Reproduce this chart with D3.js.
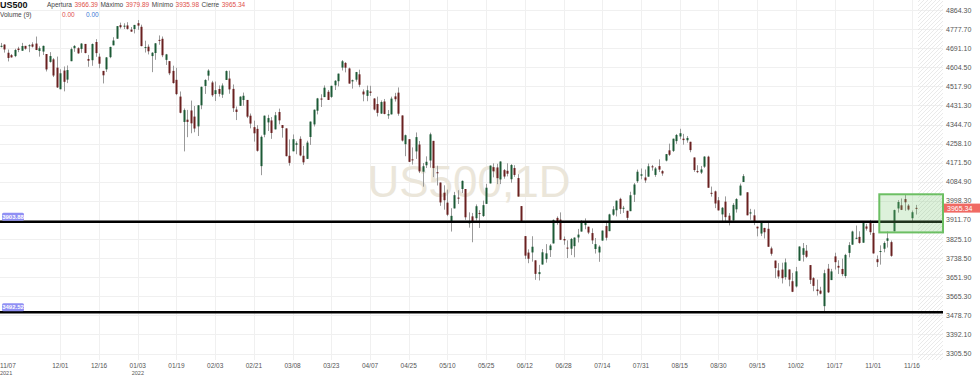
<!DOCTYPE html>
<html>
<head>
<meta charset="utf-8">
<script src="https://cdn.jsdelivr.net/npm/d3@7"></script>
<style>
  body { margin: 0; background: #fff; }
  svg { display: block; font-family: "Liberation Sans", Arial, sans-serif; }
</style>
</head>
<body>
<div id="chart"></div>
<script>
// daily bars, US500, 2021-11-08 .. 2022-11-18
var opens = [
4701.5,4707.3,4670.3,4659.4,4655.2,4689.3,4679.4,4701.5,4700.7,4708.4,4712.0,4678.5,4675.8,4664.6,4628.8,4640.3,4602.8,4504.7,4589.5,4548.4,
4632.0,4690.9,4691.0,4687.6,4710.3,4642.0,4636.5,4719.1,4652.5,4587.9,4595.0,4650.4,4704.0,4734.0,4795.5,4788.6,4794.2,4775.2,4778.1,4804.5,
4788.0,4693.4,4697.7,4655.3,4669.1,4728.6,4733.6,4638.0,4632.2,4588.0,4547.4,4471.4,4356.3,4366.6,4408.4,4380.6,4336.2,4431.8,4519.6,4566.4,
4535.4,4482.8,4505.8,4480.0,4547.0,4553.2,4506.3,4412.6,4429.3,4455.8,4456.1,4384.6,4332.7,4324.9,4155.8,4298.4,4354.2,4363.1,4322.6,4401.3,
4342.1,4327.0,4202.7,4223.1,4252.6,4279.5,4202.8,4188.8,4288.1,4345.1,4407.3,4462.4,4469.1,4493.1,4470.0,4522.7,4541.1,4602.9,4624.2,4599.0,
4540.3,4548.0,4572.5,4494.2,4474.7,4494.2,4462.6,4437.6,4394.3,4449.1,4385.6,4390.6,4472.3,4489.2,4385.8,4255.3,4278.1,4186.5,4222.6,4253.8,
4130.6,4159.8,4181.2,4270.4,4128.2,4081.3,4035.2,3990.1,3904.0,3963.9,4013.0,4052.0,4052.0,3899.0,3927.8,3919.4,3942.9,3929.6,3984.6,4077.4,
4151.1,4149.8,4095.4,4137.6,4134.7,4096.5,4147.1,4101.7,3974.4,3838.2,3763.5,3764.1,3728.2,3665.9,3709.3,3733.9,3774.7,3805.0,3920.8,3913.0,
3825.1,3786.0,3781.0,3792.6,3832.0,3858.9,3888.3,3880.9,3852.0,3779.7,3764.0,3818.0,3883.8,3860.7,3935.3,3955.5,4007.2,3965.7,3953.2,3951.4,
4026.1,4087.3,4112.4,4104.2,4108.0,4154.9,4115.9,4155.9,4133.1,4181.0,4227.4,4225.0,4269.4,4290.5,4280.4,4273.1,4266.3,4195.1,4133.1,4126.6,
4153.3,4198.7,4034.6,4041.3,4000.7,3936.7,3994.7,3930.9,3909.4,3959.9,4022.9,4083.7,4037.1,3940.7,3932.4,3881.0,3849.9,3875.2,3871.4,3782.4,
3727.1,3682.7,3686.4,3651.9,3687.0,3633.5,3609.8,3726.5,3753.3,3772.0,3706.7,3647.5,3595.9,3590.8,3520.4,3690.4,3638.7,3746.3,3703.1,3689.1,
3657.1,3762.0,3799.4,3826.0,3834.7,3808.3,3881.9,3901.8,3852.9,3733.3,3767.0,3780.7,3817.0,3810.9,3859.9,3963.7,3978.0,4006.4,3976.8,3919.3,
3966.4
];
var highs = [
4714.9,4708.5,4684.9,4664.6,4688.5,4697.4,4715.0,4701.5,4708.8,4717.8,4743.8,4699.4,4702.9,4664.6,4673.0,4646.0,4652.9,4595.5,4608.0,4612.6,
4694.0,4705.1,4695.3,4713.6,4710.3,4660.5,4712.6,4732.0,4666.7,4587.9,4651.1,4697.7,4740.7,4791.5,4807.0,4804.1,4808.9,4787.0,4796.6,4818.6,
4797.7,4725.0,4708.0,4673.0,4714.1,4748.8,4744.1,4665.1,4632.2,4611.6,4602.1,4494.5,4417.4,4411.0,4453.2,4428.7,4432.7,4516.9,4550.5,4595.3,
4542.9,4539.7,4521.9,4531.3,4590.0,4588.9,4526.3,4426.2,4472.8,4489.6,4456.1,4394.6,4362.1,4341.5,4294.7,4385.3,4388.8,4378.5,4401.5,4416.8,
4342.1,4327.0,4276.9,4299.4,4268.3,4291.0,4247.6,4271.1,4358.0,4412.7,4465.4,4481.8,4522.0,4501.1,4520.6,4546.0,4575.7,4637.3,4627.8,4603.1,
4548.7,4583.5,4593.5,4503.9,4521.2,4520.4,4464.4,4471.0,4453.9,4460.5,4410.3,4471.0,4488.3,4512.9,4385.8,4299.0,4278.1,4240.7,4308.5,4269.7,
4169.8,4200.1,4307.7,4270.4,4157.7,4081.3,4068.8,4049.1,3964.8,4038.9,4046.5,4090.7,4052.0,3946.0,3943.4,3981.9,3955.7,3999.3,4075.1,4158.5,
4168.3,4166.5,4177.5,4142.7,4168.8,4164.9,4160.1,4119.1,3974.4,3838.2,3778.2,3837.6,3728.2,3707.7,3779.7,3801.8,3802.6,3913.7,3927.7,3945.9,
3836.5,3819.0,3829.8,3832.2,3870.9,3910.6,3918.5,3880.9,3873.4,3829.4,3796.4,3863.6,3902.4,3939.8,3974.1,3999.3,4012.4,3975.3,3953.2,4039.6,
4079.0,4140.2,4145.0,4140.5,4167.7,4161.3,4151.6,4186.6,4137.3,4211.0,4257.9,4280.5,4301.8,4325.3,4302.2,4292.5,4266.3,4195.1,4159.8,4156.6,
4200.5,4203.0,4063.0,4045.0,4015.4,3970.2,4018.4,3942.6,3987.9,4010.5,4076.8,4119.3,4037.1,3961.9,3959.1,3881.0,3900.5,3876.0,3907.1,3790.4,
3727.1,3715.7,3717.5,3736.7,3687.0,3671.4,3698.4,3791.9,3806.9,3798.0,3706.7,3652.2,3640.7,3608.3,3685.4,3712.0,3689.7,3762.8,3728.6,3736.0,
3757.9,3810.7,3862.8,3886.2,3860.0,3905.4,3893.7,3911.8,3894.4,3750.6,3796.3,3814.0,3859.4,3818.2,3958.3,4001.5,4009.0,4028.8,3983.4,3954.3,
3979.9
];
var lows = [
4694.4,4670.9,4630.9,4648.3,4650.4,4672.9,4679.4,4684.4,4672.8,4694.2,4682.2,4652.7,4659.9,4585.4,4625.3,4560.0,4510.3,4504.7,4495.1,4532.5,
4632.0,4674.5,4666.0,4670.2,4667.6,4606.5,4611.2,4651.9,4600.2,4531.1,4583.2,4645.5,4704.0,4734.0,4780.0,4778.1,4775.3,4765.6,4758.2,4774.3,
4699.4,4671.3,4662.7,4582.2,4638.3,4706.7,4650.3,4614.8,4568.7,4530.2,4478.0,4395.3,4222.6,4287.1,4304.8,4309.5,4292.5,4414.0,4483.5,4544.3,
4470.4,4451.5,4471.5,4465.4,4547.0,4484.3,4401.4,4364.8,4429.3,4429.7,4373.8,4327.2,4267.1,4221.5,4114.7,4286.8,4315.1,4279.5,4322.6,4345.6,
4285.0,4199.9,4157.9,4223.1,4209.8,4200.5,4161.7,4187.9,4252.0,4335.7,4390.6,4424.3,4469.1,4455.8,4465.2,4501.1,4517.7,4589.7,4581.3,4530.4,
4507.6,4539.2,4514.2,4450.0,4450.3,4474.6,4408.4,4381.3,4392.7,4390.8,4370.3,4390.6,4448.8,4384.5,4267.6,4200.8,4175.0,4162.9,4188.6,4124.3,
4062.5,4147.1,4148.9,4106.0,4067.9,3975.5,3958.2,3928.8,3858.9,3963.9,3984.0,4033.9,3911.9,3876.6,3810.3,3909.0,3875.1,3925.0,3984.6,4077.4,
4104.9,4074.0,4074.4,4098.7,4109.2,4080.2,4107.2,4017.2,3900.2,3734.3,3715.3,3722.3,3639.8,3636.9,3709.3,3717.7,3743.5,3805.0,3889.7,3820.1,
3799.0,3738.7,3752.1,3742.1,3809.4,3858.9,3869.3,3847.2,3802.4,3759.1,3721.6,3817.2,3818.6,3860.7,3930.4,3927.6,3938.8,3943.5,3910.7,3951.4,
3993.0,4079.2,4096.0,4079.8,4108.0,4135.4,4107.3,4129.0,4112.1,4177.3,4201.4,4219.8,4256.9,4277.8,4253.1,4262.0,4218.7,4129.9,4124.0,4120.0,
4147.6,4057.7,4017.4,3965.2,3954.5,3903.7,3906.2,3886.8,3906.0,3944.8,4022.9,4083.7,3932.4,3912.2,3888.3,3837.1,3838.5,3827.5,3789.5,3749.4,
3647.5,3644.8,3623.3,3640.6,3610.4,3584.1,3604.9,3726.5,3722.7,3739.2,3620.7,3588.1,3568.5,3573.9,3491.6,3579.7,3638.7,3686.5,3666.5,3656.4,
3647.4,3741.6,3799.4,3824.1,3803.8,3808.3,3863.2,3843.8,3758.7,3698.2,3708.8,3764.7,3786.3,3744.2,3859.9,3944.8,3956.4,3953.2,3954.3,3906.5,
3936.0
];
var closes = [
4701.7,4685.3,4646.7,4649.3,4682.9,4682.8,4700.9,4688.7,4704.5,4698.0,4682.9,4690.7,4701.5,4594.6,4655.3,4567.0,4513.0,4577.1,4538.4,4591.7,
4686.8,4701.2,4667.5,4712.0,4669.0,4634.1,4709.9,4668.7,4620.6,4568.0,4649.2,4696.6,4725.8,4791.2,4786.4,4793.1,4778.7,4766.2,4796.6,4793.5,
4700.6,4696.1,4677.0,4670.3,4713.1,4726.4,4659.0,4662.9,4577.1,4532.8,4482.7,4397.9,4410.1,4356.5,4349.9,4326.5,4431.9,4515.6,4546.5,4589.4,
4477.4,4500.5,4483.9,4521.5,4587.2,4504.1,4418.6,4401.7,4471.1,4475.0,4380.3,4348.9,4304.8,4225.5,4288.7,4384.7,4373.9,4306.3,4386.5,4363.5,
4328.9,4201.1,4170.7,4277.9,4259.5,4204.3,4173.1,4262.5,4357.9,4411.7,4463.1,4461.2,4511.6,4456.2,4520.2,4543.1,4575.5,4631.6,4602.5,4530.4,
4545.9,4582.6,4525.1,4481.2,4500.2,4488.3,4412.5,4397.5,4446.6,4392.6,4391.7,4462.2,4459.5,4393.7,4271.8,4296.1,4175.2,4184.0,4287.5,4131.9,
4155.4,4175.5,4300.2,4146.9,4123.3,3991.2,4001.1,3935.2,3930.1,4023.9,4008.0,4088.9,3923.7,3900.8,3901.4,3973.8,3941.5,3978.7,4057.8,4158.2,
4132.2,4101.2,4176.8,4108.5,4121.4,4160.7,4115.8,4017.8,3900.9,3749.6,3735.5,3790.0,3666.8,3674.8,3764.8,3759.9,3795.7,3911.7,3900.1,3821.6,
3818.8,3785.4,3825.3,3831.4,3845.1,3902.6,3899.4,3854.4,3818.8,3801.8,3790.4,3863.2,3830.9,3936.7,3959.9,3999.0,3961.6,3966.8,3921.1,4023.6,
4072.4,4130.3,4118.6,4091.2,4155.2,4151.9,4145.2,4140.1,4122.5,4210.2,4207.3,4280.2,4297.1,4305.2,4274.0,4283.7,4228.5,4138.0,4128.7,4140.8,
4199.1,4057.7,4030.6,3986.2,3955.0,3966.9,3924.3,3908.2,3979.9,4006.2,4067.4,4110.4,3932.7,3946.0,3901.4,3873.3,3899.9,3855.9,3789.9,3758.0,
3693.2,3655.0,3647.3,3719.0,3640.5,3585.6,3678.4,3790.9,3783.3,3744.5,3639.7,3612.4,3588.8,3577.0,3669.9,3583.1,3678.0,3720.0,3695.2,3665.8,
3752.8,3797.3,3859.1,3830.6,3807.3,3901.1,3872.0,3856.1,3759.7,3719.9,3770.6,3806.8,3828.1,3748.6,3956.4,3992.9,3957.3,3991.7,3958.8,3946.6,
3965.3
];

// price axis and date axis labels
var priceTicks = [4864.3, 4777.7, 4691.1, 4604.5, 4517.9, 4431.3, 4344.7, 4258.1, 4171.5, 4084.9,
                  3998.3, 3911.7, 3825.1, 3738.5, 3651.9, 3565.3, 3478.7, 3392.1, 3305.5];
var dateLabels = ["11/07", "12/01", "12/16", "01/03", "01/19", "02/03", "02/21", "03/08", "03/23", "04/07",
                  "04/25", "05/10", "05/25", "06/12", "06/28", "07/14", "07/31", "08/15", "08/30", "09/15",
                  "10/02", "10/17", "11/01", "11/16"];
var dateIndex = [0, 17, 28, 39, 50, 61, 72, 83, 94, 105, 116, 127, 138, 149, 160, 171, 182, 193, 204, 215, 226, 237, 248, 259];
var yearLabels = {0: "2021", 39: "2022"};

// drawn levels and zone
var levels = [3903.88, 3492.52];
var zone = {from: 250, top: 4028, bottom: 3855};
var lastBar = {open: 3966.39, high: 3979.89, low: 3935.98, close: 3965.34};

var W = 980, H = 379;
var plotRight = 943, plotBottom = 360;

var svg = d3.select("#chart").append("svg")
    .attr("width", W)
    .attr("height", H);

var x = d3.scaleLinear().domain([0, 260]).range([0.5, 915.5]);
var y = d3.scaleLinear().domain([3305.5, 4864.3]).range([353.5, 10]);

// hatch pattern for the empty future area
var defs = svg.append("defs");
var pat = defs.append("pattern")
    .attr("id", "hatch")
    .attr("patternUnits", "userSpaceOnUse")
    .attr("width", 4).attr("height", 4);
pat.append("path")
    .attr("d", "M-1,1 l2,-2 M0,4 l4,-4 M3,5 l2,-2")
    .attr("stroke", "#e4e4e4").attr("stroke-width", 0.8);

// grid
svg.append("g").selectAll("line")
    .data(priceTicks)
    .enter().append("line")
    .attr("x1", 0).attr("x2", plotRight)
    .attr("y1", function(d) { return Math.round(y(d)) + 0.5; })
    .attr("y2", function(d) { return Math.round(y(d)) + 0.5; })
    .attr("stroke", "#f0f0f0");

svg.append("g").selectAll("line")
    .data(dateIndex.slice(1))
    .enter().append("line")
    .attr("x1", function(d) { return Math.round(x(d)) + 0.5; })
    .attr("x2", function(d) { return Math.round(x(d)) + 0.5; })
    .attr("y1", 0).attr("y2", plotBottom)
    .attr("stroke", "#f0f0f0");

svg.append("rect")
    .attr("x", x(260) + 2.5).attr("y", 0)
    .attr("width", plotRight - x(260) - 2.5).attr("height", plotBottom)
    .attr("fill", "url(#hatch)");

// watermark
svg.append("text")
    .attr("x", 469).attr("y", 197)
    .attr("text-anchor", "middle")
    .attr("font-size", 44)
    .attr("fill", "#ebe6da")
    .text("US500,1D");

// candles
var bars = d3.range(opens.length).map(function(i) {
    return {i: i, o: opens[i], h: highs[i], l: lows[i], c: closes[i]};
});

var candle = svg.append("g").selectAll("g")
    .data(bars)
    .enter().append("g");

candle.append("line")
    .attr("x1", function(d) { return Math.round(x(d.i)) + 0.5; })
    .attr("x2", function(d) { return Math.round(x(d.i)) + 0.5; })
    .attr("y1", function(d) { return y(d.h); })
    .attr("y2", function(d) { return y(d.l); })
    .attr("stroke", "#9a9a9a");

candle.append("rect")
    .attr("x", function(d) { return Math.round(x(d.i)) - 0.5; })
    .attr("width", 2)
    .attr("y", function(d) { return y(Math.max(d.o, d.c)); })
    .attr("height", function(d) { return Math.max(1, Math.abs(y(d.o) - y(d.c))); })
    .attr("fill", function(d) { return d.c >= d.o ? "#1c5a36" : "#6a2020"; });

// horizontal levels
svg.append("g").selectAll("line")
    .data(levels)
    .enter().append("line")
    .attr("x1", 0).attr("x2", plotRight)
    .attr("y1", function(d) { return y(d); })
    .attr("y2", function(d) { return y(d); })
    .attr("stroke", "#000").attr("stroke-width", 2.5);

var lvl = svg.append("g").selectAll("g")
    .data(levels)
    .enter().append("g")
    .attr("transform", function(d) { return "translate(2," + (y(d) - 9) + ")"; });
lvl.append("rect")
    .attr("width", 22).attr("height", 8).attr("rx", 1.5)
    .attr("fill", "#9090f4");
lvl.append("text")
    .attr("x", 11).attr("y", 6.2)
    .attr("text-anchor", "middle")
    .attr("font-size", 6).attr("font-weight", "bold")
    .attr("fill", "#fff")
    .text(function(d) { return d.toFixed(2); });

// zone rectangle
svg.append("rect")
    .attr("x", x(zone.from) - 1).attr("y", y(zone.top))
    .attr("width", plotRight - x(zone.from) + 1)
    .attr("height", y(zone.bottom) - y(zone.top))
    .attr("fill", "rgba(120,200,110,0.25)")
    .attr("stroke", "#6cbf63").attr("stroke-width", 2);

// price axis
svg.append("g").selectAll("text")
    .data(priceTicks)
    .enter().append("text")
    .attr("x", 946).attr("y", function(d) { return y(d) + 2.5; })
    .attr("font-size", 7).attr("fill", "#555")
    .text(function(d) { return d.toFixed(2); });

var tag = svg.append("g").attr("transform", "translate(944," + (y(lastBar.close) - 4.5) + ")");
tag.append("rect").attr("width", 36).attr("height", 9).attr("fill", "#f06a64");
tag.append("text").attr("x", 3).attr("y", 7).attr("font-size", 7).attr("fill", "#fff")
    .text(lastBar.close.toFixed(2));

// date axis
var dl = svg.append("g").selectAll("g")
    .data(dateIndex)
    .enter().append("g");
dl.append("text")
    .attr("x", function(d, i) { return i === 0 ? 0 : x(d); })
    .attr("y", 368)
    .attr("text-anchor", function(d, i) { return i === 0 ? "start" : "middle"; })
    .attr("font-size", 6.5).attr("fill", "#555")
    .text(function(d, i) { return dateLabels[i]; });
dl.filter(function(d) { return yearLabels[d]; }).append("text")
    .attr("x", function(d) { return d === 0 ? 0 : x(d) - 6; })
    .attr("y", 375)
    .attr("font-size", 5.5).attr("fill", "#555")
    .text(function(d) { return yearLabels[d]; });

// header legend, laid out left to right
svg.append("text").attr("x", 0).attr("y", 8)
    .attr("font-size", 9).attr("font-weight", "bold").attr("fill", "#111").text("US500");
var fields = [["Apertura", lastBar.open], ["Máximo", lastBar.high], ["Mínimo", lastBar.low], ["Cierre", lastBar.close]];
var hx = 47;
fields.forEach(function(f) {
    var t1 = svg.append("text").attr("x", hx).attr("y", 7)
        .attr("font-size", 6.5).attr("fill", "#444").text(f[0]);
    hx += t1.node().getComputedTextLength() + 2.5;
    var t2 = svg.append("text").attr("x", hx).attr("y", 7)
        .attr("font-size", 6.5).attr("fill", "#e0504a").text(f[1].toFixed(2));
    hx += t2.node().getComputedTextLength() + 2.5;
});
svg.append("text").attr("x", 0).attr("y", 17).attr("font-size", 6.5).attr("fill", "#444").text("Volume (9)");
svg.append("text").attr("x", 62).attr("y", 17).attr("font-size", 6.5).attr("fill", "#e0504a").text("0.00");
svg.append("text").attr("x", 86).attr("y", 17).attr("font-size", 6.5).attr("fill", "#3a7bd5").text("0.00");
</script>
</body>
</html>
